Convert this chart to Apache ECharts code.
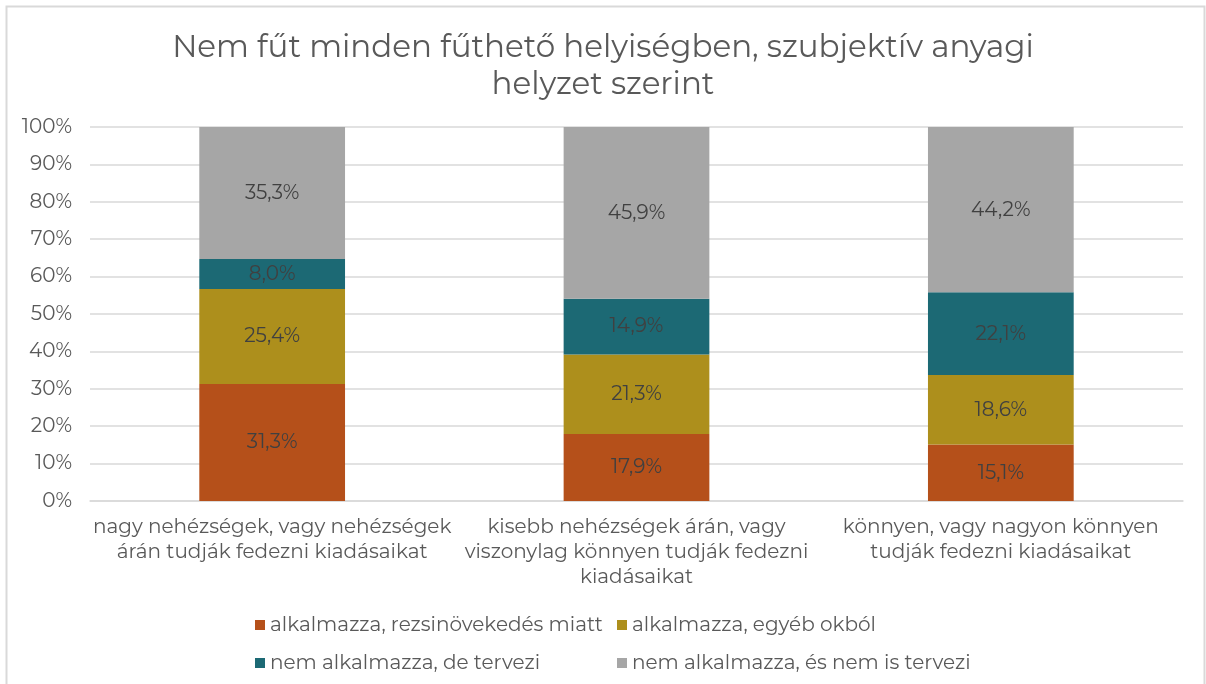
<!DOCTYPE html>
<html>
<head>
<meta charset="utf-8">
<script src="https://cdn.jsdelivr.net/npm/echarts@6/dist/echarts.min.js"></script>
<style>
  html, body { margin: 0; padding: 0; background: #fff; }
  #chart { width: 1206px; height: 684px; }
</style>
</head>
<body>
<div id="chart"></div>
<script>
const categories = [
  "nagy nehézségek, vagy nehézségek\nárán tudják fedezni kiadásaikat",
  "kisebb nehézségek árán, vagy\nviszonylag könnyen tudják fedezni\nkiadásaikat",
  "könnyen, vagy nagyon könnyen\ntudják fedezni kiadásaikat"
];
const seriesNames = [
  "alkalmazza, rezsinövekedés miatt",
  "alkalmazza, egyéb okból",
  "nem alkalmazza, de tervezi",
  "nem alkalmazza, és nem is tervezi"
];
const rezsiValues = [31.3, 17.9, 15.1];
const egyebValues = [25.4, 21.3, 18.6];
const terveziValues = [8.0, 14.9, 22.1];
const nemTervValues = [35.3, 45.9, 44.2];
const colors = ["#b5501a", "#ad8f1c", "#1c6974", "#a6a6a6"];

const font = "Montserrat, 'Noto Sans', sans-serif";
const chart = echarts.init(document.getElementById("chart"));

const makeSeries = (name, data, color) => ({
  name: name,
  type: "bar",
  stack: "total",
  barWidth: "40%",
  data: data,
  itemStyle: { color: color },
  label: {
    show: true,
    position: "inside",
    color: "#404040",
    fontFamily: font,
    fontSize: 20,
    formatter: (p) => p.value.toFixed(1).replace(".", ",") + "%"
  }
});

// one legend per item so the two rows line up in columns
const legendSpots = [[250, 610], [612, 610], [250, 648], [612, 648]];
const legends = seriesNames.map((name, i) => ({
  left: legendSpots[i][0],
  top: legendSpots[i][1],
  itemWidth: 10,
  itemHeight: 10,
  icon: "rect",
  textStyle: { fontFamily: font, fontSize: 20, color: "#595959" },
  data: [name]
}));

chart.setOption({
  animation: false,
  graphic: [{
    type: "rect",
    shape: { x: 6.5, y: 6.5, width: 1198, height: 690 },
    style: { fill: "none", stroke: "#d9d9d9", lineWidth: 2 },
    silent: true
  }],
  title: {
    text: "Nem fűt minden fűthető helyiségben, szubjektív anyagi\nhelyzet szerint",
    left: "center",
    top: 24,
    textStyle: {
      fontFamily: font,
      fontSize: 31,
      fontWeight: "normal",
      color: "#595959",
      lineHeight: 37
    }
  },
  legend: legends,
  grid: { left: 90, right: 23, top: 127, bottom: 183 },
  xAxis: {
    type: "category",
    data: categories,
    axisLine: { lineStyle: { color: "#d9d9d9", width: 1.5 } },
    axisTick: { show: false },
    axisLabel: {
      fontFamily: font,
      fontSize: 20,
      color: "#595959",
      lineHeight: 25,
      margin: 14,
      interval: 0
    }
  },
  yAxis: {
    type: "value",
    min: 0,
    max: 100,
    interval: 10,
    axisLine: { show: false },
    axisTick: { show: false },
    splitLine: { lineStyle: { color: "#d9d9d9", width: 1.5 } },
    axisLabel: {
      fontFamily: font,
      fontSize: 20,
      color: "#595959",
      margin: 18,
      formatter: "{value}%"
    }
  },
  series: [
    makeSeries(seriesNames[0], rezsiValues, colors[0]),
    makeSeries(seriesNames[1], egyebValues, colors[1]),
    makeSeries(seriesNames[2], terveziValues, colors[2]),
    makeSeries(seriesNames[3], nemTervValues, colors[3])
  ]
});
</script>
</body>
</html>
